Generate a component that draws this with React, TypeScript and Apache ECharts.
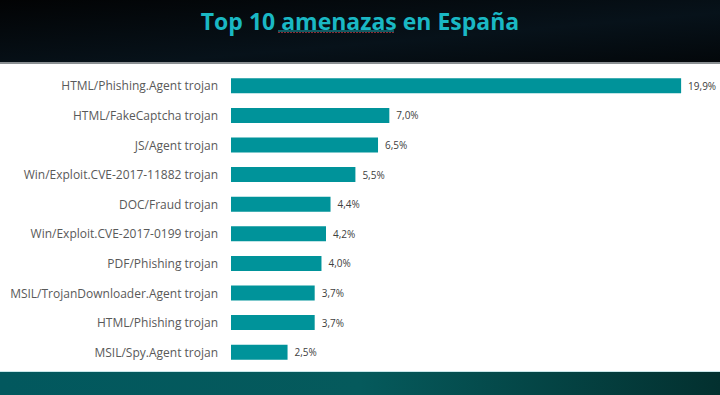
import React, { useEffect, useRef } from "react";
import * as echarts from "echarts";

const categories = [
  "HTML/Phishing.Agent trojan",
  "HTML/FakeCaptcha trojan",
  "JS/Agent trojan",
  "Win/Exploit.CVE-2017-11882 trojan",
  "DOC/Fraud trojan",
  "Win/Exploit.CVE-2017-0199 trojan",
  "PDF/Phishing trojan",
  "MSIL/TrojanDownloader.Agent trojan",
  "HTML/Phishing trojan",
  "MSIL/Spy.Agent trojan",
];
const values = [19.9, 7.0, 6.5, 5.5, 4.4, 4.2, 4.0, 3.7, 3.7, 2.5];
const titleText = "Top 10 amenazas en España";

export default function App() {
  const ref = useRef<HTMLDivElement>(null);
  useEffect(() => {
    document.body.style.margin = "0";
    const chart = echarts.init(ref.current!, null, { renderer: "svg" });
    chart.setOption({
      animation: false,
      backgroundColor: "#ffffff",
      graphic: [
        {
          type: "rect",
          left: 0,
          top: 0,
          z: -1,
          shape: { width: 720, height: 63 },
          style: {
            fill: new echarts.graphic.LinearGradient(0, 0, 1, 1, [
              { offset: 0, color: "#020304" },
              { offset: 0.6, color: "#07121a" },
              { offset: 1, color: "#03070a" },
            ]),
          },
        },
        {
          type: "rect",
          left: 0,
          top: 62,
          shape: { width: 720, height: 2 },
          style: { fill: "#8a8f92" },
        },
        {
          type: "rect",
          left: 0,
          top: 372,
          z: -1,
          shape: { width: 720, height: 23 },
          style: {
            fill: new echarts.graphic.LinearGradient(0, 0, 1, 0, [
              { offset: 0, color: "#02585e" },
              { offset: 0.5, color: "#055a5c" },
              { offset: 1, color: "#03302f" },
            ]),
          },
        },
        {
          type: "rect",
          left: 0,
          top: 371,
          shape: { width: 720, height: 1 },
          style: { fill: "#c9e7ea" },
        },
        {
          type: "text",
          left: "center",
          top: 9,
          style: {
            text: titleText,
            fill: "#1ab8c4",
            font: "bold 23px 'Open Sans', sans-serif",
          },
        },
        {
          type: "line",
          shape: { x1: 278, y1: 31, x2: 394, y2: 31 },
          style: { stroke: "#1aa5b0", lineWidth: 1.2 },
        },
        {
          type: "line",
          shape: { x1: 278, y1: 32.5, x2: 394, y2: 32.5 },
          style: { stroke: "#a8343c", lineWidth: 0.8, lineDash: [2, 1] },
        },
      ],
      grid: { left: 231, right: 14, top: 71, bottom: 28, containLabel: false },
      xAxis: {
        type: "value",
        min: 0,
        max: 21,
        show: false,
      },
      yAxis: {
        type: "category",
        data: categories,
        inverse: true,
        axisLine: { show: false },
        axisTick: { show: false },
        splitLine: { show: false },
        axisLabel: {
          margin: 13,
          color: "#595959",
          fontFamily: "'Open Sans', sans-serif",
          fontSize: 12,
        },
      },
      series: [
        {
          type: "bar",
          data: values,
          barWidth: 15,
          itemStyle: { color: "#00939a" },
          label: {
            show: true,
            position: "right",
            distance: 7,
            color: "#404040",
            fontFamily: "'Open Sans', sans-serif",
            fontSize: 10,
            formatter: (p: any) => p.value.toFixed(1).replace(".", ",") + "%",
          },
        },
      ],
    });
    return () => chart.dispose();
  }, []);
  return (
    <div
      ref={ref}
      style={{ position: "absolute", left: 0, top: 0, width: 720, height: 395 }}
    />
  );
}
